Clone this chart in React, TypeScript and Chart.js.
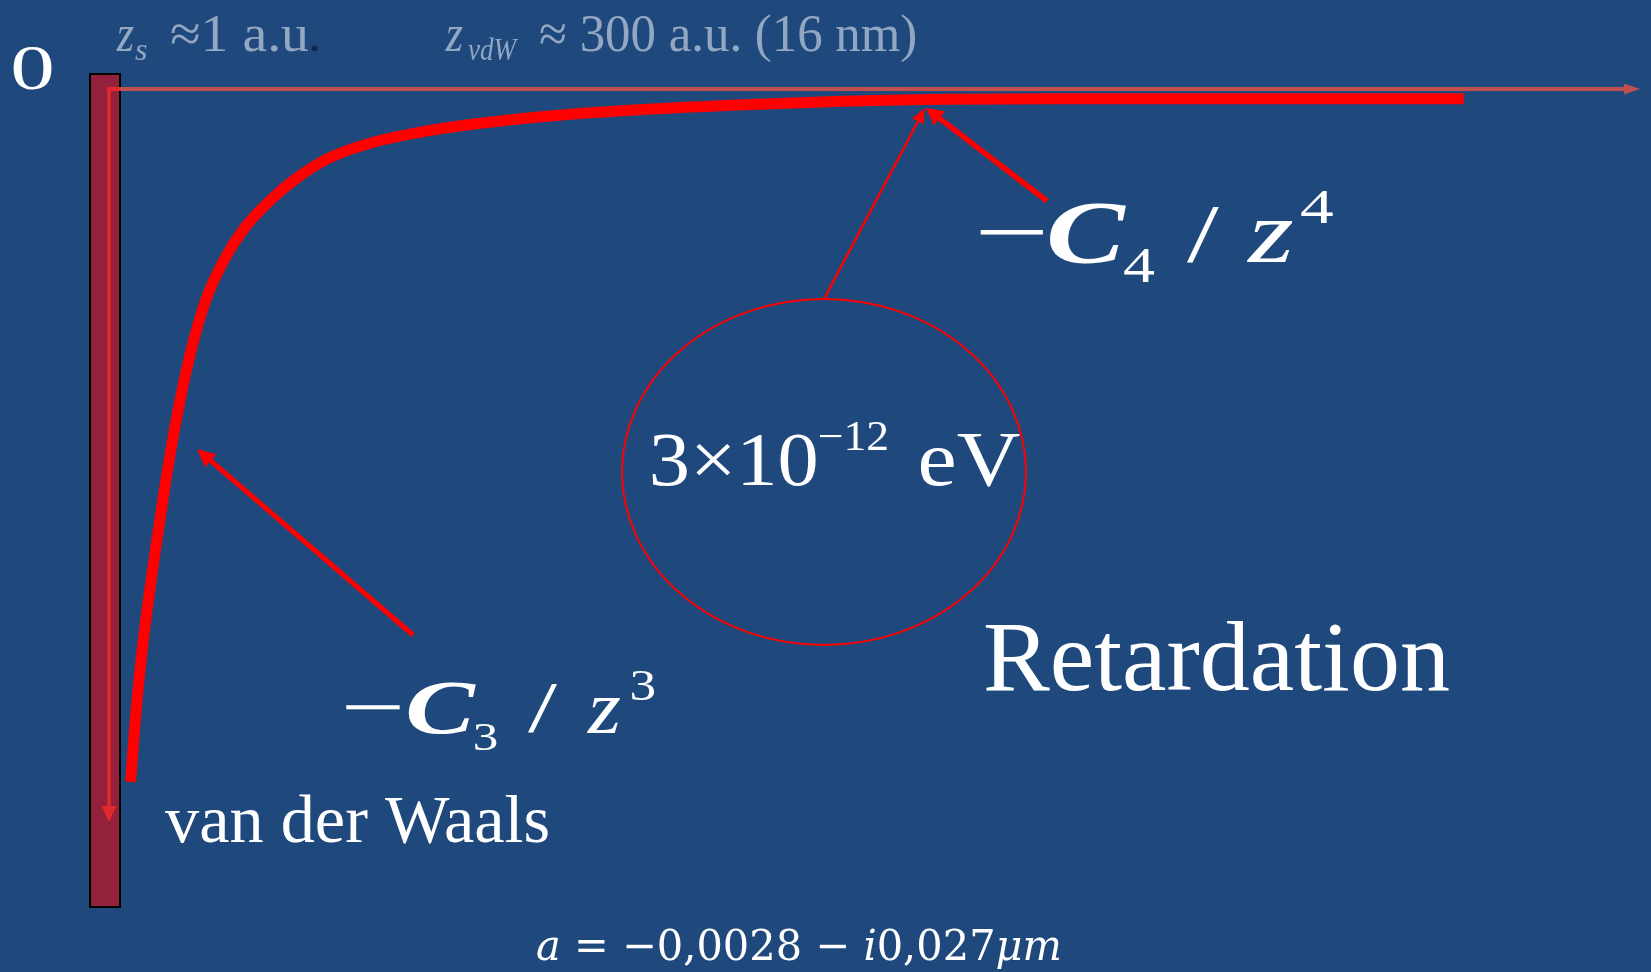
import React, { useEffect, useRef } from "react";
import { Chart, registerables } from "chart.js";

Chart.register(...registerables);

// Distance from the surface (arbitrary units) and the atom–surface potential (arbitrary units)
const Z_VALUES = [0.7, 0.9, 1.25, 1.7, 2.3, 2.95, 3.7, 4.6, 5.65, 6.85, 8.2, 9.9, 11.7, 13.8, 16.5, 19.7, 23.7, 28.3, 33.5, 40.6, 47.5, 54.5, 64.5, 77.6, 88.4];
const V_VALUES = [-84.8, -79.7, -72.3, -65.0, -56.8, -48.7, -40.5, -32.6, -25.8, -20.9, -17.0, -13.6, -10.8, -8.4, -6.6, -5.3, -4.2, -3.3, -2.6, -1.95, -1.5, -1.25, -1.2, -1.2, -1.2];

const Z_RANGE = [0, 100];
const V_RANGE = [-100, 0];

const W = 1651;
const H = 972;
const SERIF = '"Liberation Serif", "Times New Roman", serif';
const MATH = '"DejaVu Serif", "Liberation Serif", serif';

const BG = "#1F497D";
const WHITE = "#FFFFFF";
const RED = "#FF0000";
const GREY_TEXT = "#93A7C3";

type Ctx = CanvasRenderingContext2D;

// Draws text so that its ink box spans [x0, x1] horizontally (x1 optional)
function ink(ctx: Ctx, text: string, font: string, x0: number, x1: number | null, baseline: number, color: string) {
  ctx.save();
  ctx.font = font;
  ctx.textAlign = "left";
  ctx.textBaseline = "alphabetic";
  const m = ctx.measureText(text);
  const inkW = m.actualBoundingBoxLeft + m.actualBoundingBoxRight;
  const sx = x1 == null ? 1 : (x1 - x0) / inkW;
  ctx.translate(x0 + m.actualBoundingBoxLeft * sx, baseline);
  ctx.scale(sx, 1);
  ctx.fillStyle = color;
  ctx.fillText(text, 0, 0);
  ctx.restore();
}

// Draws a run of differently styled segments, fitted to a total width
function run(ctx: Ctx, segs: { t: string; f: string }[], x0: number, x1: number, baseline: number, color: string) {
  ctx.save();
  let total = 0;
  const widths = segs.map((s) => {
    ctx.font = s.f;
    const w = ctx.measureText(s.t).width;
    total += w;
    return w;
  });
  const sx = (x1 - x0) / total;
  ctx.fillStyle = color;
  ctx.textBaseline = "alphabetic";
  let x = x0;
  segs.forEach((s, i) => {
    ctx.save();
    ctx.font = s.f;
    ctx.translate(x, baseline);
    ctx.scale(sx, 1);
    ctx.fillText(s.t, 0, 0);
    ctx.restore();
    x += widths[i] * sx;
  });
  ctx.restore();
}

function arrow(ctx: Ctx, x0: number, y0: number, x1: number, y1: number, width: number, headLen: number, headHalf: number, color: string) {
  const dx = x1 - x0;
  const dy = y1 - y0;
  const L = Math.hypot(dx, dy);
  const ux = dx / L;
  const uy = dy / L;
  const bx = x1 - ux * headLen;
  const by = y1 - uy * headLen;
  ctx.save();
  ctx.strokeStyle = color;
  ctx.lineWidth = width;
  ctx.lineCap = "butt";
  ctx.beginPath();
  ctx.moveTo(x0, y0);
  ctx.lineTo(bx + ux * 2, by + uy * 2);
  ctx.stroke();
  ctx.fillStyle = color;
  ctx.beginPath();
  ctx.moveTo(x1, y1);
  ctx.lineTo(bx - uy * headHalf, by + ux * headHalf);
  ctx.lineTo(bx + uy * headHalf, by - ux * headHalf);
  ctx.closePath();
  ctx.fill();
  ctx.restore();
}

const scenePlugin = {
  id: "scene",
  beforeDraw(chart: Chart) {
    const ctx = chart.ctx;
    const area = chart.chartArea;
    ctx.save();
    ctx.fillStyle = BG;
    ctx.fillRect(0, 0, W, H);

    // surface wall
    ctx.fillStyle = "#94213B";
    ctx.fillRect(90, 74, area.left - 90, 833);
    ctx.strokeStyle = "#000000";
    ctx.lineWidth = 2;
    ctx.strokeRect(90, 74, area.left - 90, 833);

    // energy axis (downwards) inside the wall
    arrow(ctx, 109, area.top - 2, 109, 822, 3.5, 16, 7.5, "#E0292B");
    ctx.strokeStyle = "#E0292B";
    ctx.lineWidth = 4;
    ctx.beginPath();
    ctx.moveTo(107, area.top);
    ctx.lineTo(area.left, area.top);
    ctx.stroke();

    // distance axis
    arrow(ctx, area.left, area.top, area.right, area.top, 4, 16, 5.5, "#C0504D");
    ctx.restore();
  },
  afterDatasetsDraw(chart: Chart) {
    const ctx = chart.ctx;
    ctx.save();

    // pointer arrows
    arrow(ctx, 413, 635, 197, 449, 5, 18, 8.5, RED);
    arrow(ctx, 1047, 201, 926, 108, 5.5, 17, 9, RED);
    arrow(ctx, 824, 299, 925, 108, 2.5, 15, 6.5, RED);

    // ellipse
    ctx.strokeStyle = RED;
    ctx.lineWidth = 2;
    ctx.beginPath();
    ctx.ellipse(824, 472, 202, 173, 0, 0, Math.PI * 2);
    ctx.stroke();

    // origin
    ink(ctx, "0", `64px ${SERIF}`, 13, 52, 89, WHITE);

    // characteristic distances
    ink(ctx, "z", `italic 52px ${SERIF}`, 116, 134, 51, GREY_TEXT);
    ink(ctx, "s", `italic 32px ${SERIF}`, 135, 147, 60, GREY_TEXT);
    ink(ctx, "\u22481 a.u", `52px ${SERIF}`, 171, 309, 51, GREY_TEXT);
    ink(ctx, ".", `52px ${SERIF}`, 311, null, 51, "#14294A");
    ink(ctx, "z", `italic 52px ${SERIF}`, 445, 463, 51, GREY_TEXT);
    ink(ctx, "vdW", `italic 32px ${SERIF}`, 468, 519, 60, GREY_TEXT);
    ink(ctx, "\u2248 300 a.u. (16 nm)", `52px ${SERIF}`, 540, 916, 51, GREY_TEXT);

    // -C3 / z^3
    ink(ctx, "\u2212", `77px ${SERIF}`, 345, 400, 733, WHITE);
    ink(ctx, "C", `bold italic 77px ${SERIF}`, 408, 477, 733, WHITE);
    ink(ctx, "3", `40px ${SERIF}`, 474, 497, 750, WHITE);
    ink(ctx, "/", `72px ${SERIF}`, 528, 557, 731, WHITE);
    ink(ctx, "z", `italic 77px ${SERIF}`, 587, 620, 733, WHITE);
    ink(ctx, "3", `44px ${SERIF}`, 632, 655, 700, WHITE);

    // -C4 / z^4
    ink(ctx, "\u2212", `89px ${SERIF}`, 980, 1043, 262, WHITE);
    ink(ctx, "C", `bold italic 89px ${SERIF}`, 1050, 1127, 262, WHITE);
    ink(ctx, "4", `50px ${SERIF}`, 1123, 1155, 282, WHITE);
    ink(ctx, "/", `83px ${SERIF}`, 1187, 1220, 261, WHITE);
    ink(ctx, "z", `italic 89px ${SERIF}`, 1247, 1293, 262, WHITE);
    ink(ctx, "4", `49px ${SERIF}`, 1300, 1333, 223, WHITE);

    // energy scale
    ink(ctx, "3\u00D710", `77px ${SERIF}`, 652, 816, 485, WHITE);
    ink(ctx, "\u221212", `42px ${SERIF}`, 820, 887, 450, WHITE);
    ink(ctx, "eV", `78px ${SERIF}`, 921, 1020, 485, WHITE);

    // regime labels
    ink(ctx, "Retardation", `100px ${SERIF}`, 985, 1449, 690, WHITE);
    ink(ctx, "van der Waals", `67px ${SERIF}`, 165, 548, 842, WHITE);

    // scattering length
    run(
      ctx,
      [
        { t: "a", f: `italic 43px ${MATH}` },
        { t: " = \u22120,0028 \u2212 ", f: `43px ${MATH}` },
        { t: "i", f: `italic 43px ${MATH}` },
        { t: "0,027", f: `43px ${MATH}` },
        { t: "\u03BCm", f: `italic 43px ${MATH}` },
      ],
      536,
      1062,
      960,
      WHITE
    );
    ctx.restore();
  },
};

export default function App() {
  const canvasRef = useRef<HTMLCanvasElement | null>(null);

  useEffect(() => {
    document.body.style.margin = "0";
    document.body.style.overflow = "hidden";
    const canvas = canvasRef.current;
    if (!canvas) return;
    const chart = new Chart(canvas, {
      type: "line",
      data: {
        datasets: [
          {
            data: Z_VALUES.map((z, i) => ({ x: z, y: V_VALUES[i] })),
            borderColor: RED,
            borderWidth: 11,
            pointRadius: 0,
            cubicInterpolationMode: "monotone",
            borderCapStyle: "butt",
            borderJoinStyle: "round",
            fill: false,
            clip: false as any,
          },
        ],
      },
      options: {
        animation: false,
        responsive: false,
        events: [],
        layout: { padding: { left: 120, right: 11, top: 89, bottom: 66 } },
        scales: {
          x: { type: "linear", min: Z_RANGE[0], max: Z_RANGE[1], display: false },
          y: { type: "linear", min: V_RANGE[0], max: V_RANGE[1], display: false },
        },
        plugins: { legend: { display: false }, tooltip: { enabled: false } },
      },
      plugins: [scenePlugin],
    });
    return () => chart.destroy();
  }, []);

  return (
    <div style={{ position: "absolute", left: 0, top: 0, width: W, height: H }}>
      <canvas ref={canvasRef} width={W} height={H} style={{ display: "block" }} />
    </div>
  );
}
